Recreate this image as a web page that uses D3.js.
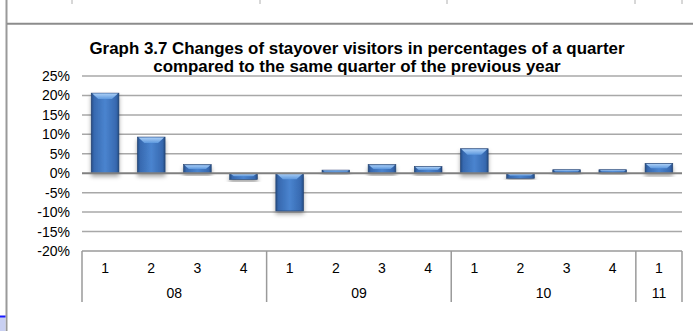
<!DOCTYPE html>
<html>
<head>
<meta charset="utf-8">
<script src="https://cdn.jsdelivr.net/npm/d3@7"></script>
<style>
  html, body { margin: 0; padding: 0; background: #fff; }
  svg { display: block; font-family: "Liberation Sans", Arial, sans-serif; }
</style>
</head>
<body>
<svg id="chart" width="693" height="331"></svg>
<script>
// Quarterly change of stayover visitors vs. same quarter of previous year (%)
const years = ["08", "09", "10", "11"];
const quartersPerYear = [4, 4, 4, 1];
const quarterLabels = ["1", "2", "3", "4", "1", "2", "3", "4", "1", "2", "3", "4", "1"];
const values = [20.6, 9.3, 2.2, -1.6, -9.7, 0.8, 2.2, 1.7, 6.3, -1.3, 0.9, 0.9, 2.5];
const yTicks = [25, 20, 15, 10, 5, 0, -5, -10, -15, -20];
const titleLines = [
  "Graph 3.7 Changes of stayover visitors in percentages of a quarter",
  "compared to the same quarter of the previous year"
];

const svg = d3.select("#chart");
const W = 693, H = 331;
const plot = { left: 82, right: 682, top: 76, bottom: 251 };

// page frame
svg.append("line").attr("x1", 6.5).attr("x2", 6.5).attr("y1", 0).attr("y2", H)
  .attr("stroke", "#9a9a9a").attr("stroke-width", 2);
svg.append("line").attr("x1", 7).attr("x2", W).attr("y1", 23.7).attr("y2", 23.7)
  .attr("stroke", "#8c8c8c").attr("stroke-width", 2);
[72, 260, 447, 635, 682].forEach(x => {
  svg.append("line").attr("x1", x).attr("x2", x).attr("y1", 0).attr("y2", 4)
    .attr("stroke", "#b0b0b0").attr("stroke-width", 1);
});
svg.append("rect").attr("x", 0).attr("y", 317).attr("width", 5.5).attr("height", 14)
  .attr("fill", "#c9d0f2");
svg.append("line").attr("x1", 0).attr("x2", 5.5).attr("y1", 316.5).attr("y2", 316.5)
  .attr("stroke", "#1a1aff").attr("stroke-width", 2);

// title
svg.append("text")
  .attr("x", 357).attr("y", 54)
  .attr("text-anchor", "middle")
  .attr("font-size", 16.9).attr("font-weight", "bold").attr("fill", "#000")
  .selectAll("tspan").data(titleLines).join("tspan")
  .attr("x", 357).attr("dy", (d, i) => i === 0 ? 0 : 18)
  .text(d => d);

// scales
const idx = d3.range(values.length);
const x = d3.scaleBand().domain(idx).range([plot.left, plot.right])
  .paddingInner(0.4).paddingOuter(0.2);
const y = d3.scaleLinear().domain([-20, 25]).range([plot.bottom, plot.top]);

// gridlines
svg.append("g").selectAll("line").data(yTicks.filter(t => t !== 0 && t !== -20)).join("line")
  .attr("x1", plot.left).attr("x2", plot.right)
  .attr("y1", d => y(d)).attr("y2", d => y(d))
  .attr("stroke", "#a8a8a8").attr("stroke-width", 1.5);

// y axis labels
const yAxis = d3.axisLeft(y).tickValues(yTicks).tickSize(0).tickPadding(12)
  .tickFormat(d => d + "%");
const gy = svg.append("g").attr("transform", `translate(${plot.left},0)`).call(yAxis);
gy.select(".domain").remove();
gy.selectAll("text").attr("font-size", 14).attr("fill", "#000")
  .attr("font-family", "Liberation Sans, Arial, sans-serif");

// bar styling
const defs = svg.append("defs");
const side = defs.append("linearGradient").attr("id", "barSide")
  .attr("x1", 0).attr("x2", 1).attr("y1", 0).attr("y2", 0);
[[0, "#254c82"], [0.1, "#3769b0"], [0.5, "#4a84cf"], [0.9, "#3769b0"], [1, "#254c82"]]
  .forEach(([o, c]) => side.append("stop").attr("offset", o).attr("stop-color", c));
const bevel = defs.append("linearGradient").attr("id", "barBevel")
  .attr("x1", 0).attr("x2", 0).attr("y1", 0).attr("y2", 1);
[[0, "#a9cdf5"], [1, "#5d98de"]]
  .forEach(([o, c]) => bevel.append("stop").attr("offset", o).attr("stop-color", c));
const shadow = defs.append("filter").attr("id", "shadow")
  .attr("x", "-30%").attr("y", "-30%").attr("width", "160%").attr("height", "160%");
shadow.append("feDropShadow").attr("dx", 0).attr("dy", 3).attr("stdDeviation", 2)
  .attr("flood-color", "#000").attr("flood-opacity", 0.35);

// bars
const bars = svg.append("g").selectAll("g").data(idx).join("g")
  .attr("filter", "url(#shadow)");
bars.append("rect")
  .attr("x", i => x(i))
  .attr("y", i => Math.min(y(values[i]), y(0)))
  .attr("width", x.bandwidth())
  .attr("height", i => Math.abs(y(values[i]) - y(0)))
  .attr("fill", "url(#barSide)")
  .attr("stroke", "#1f3f6e").attr("stroke-width", 0.6);
bars.append("path")
  .attr("d", i => {
    const x0 = x(i), w = x.bandwidth();
    const top = Math.min(y(values[i]), y(0));
    const h = Math.abs(y(values[i]) - y(0));
    const b = Math.min(6, h / 2);
    return `M${x0 + 1},${top + 0.5} L${x0 + w - 1},${top + 0.5} L${x0 + w - 1 - b},${top + b} L${x0 + 1 + b},${top + b} Z`;
  })
  .attr("fill", "url(#barBevel)");

// zero line
svg.append("line").attr("x1", plot.left).attr("x2", plot.right)
  .attr("y1", y(0)).attr("y2", y(0))
  .attr("stroke", "#808080").attr("stroke-width", 2);

// category axis box
const axisG = svg.append("g");
const boxBottom = 302;
axisG.append("line").attr("x1", plot.left).attr("x2", plot.right)
  .attr("y1", plot.bottom).attr("y2", plot.bottom)
  .attr("stroke", "#9a9a9a").attr("stroke-width", 1.5);

const step = x.step();
let start = 0;
const spans = years.map((yr, k) => {
  const s = { year: yr, from: start, to: start + quartersPerYear[k] };
  start += quartersPerYear[k];
  return s;
});
const edge = i => plot.left + i * step;
const boundaries = [0].concat(spans.map(s => s.to));
axisG.selectAll("line.sep").data(boundaries).join("line").attr("class", "sep")
  .attr("x1", d => edge(d)).attr("x2", d => edge(d))
  .attr("y1", plot.bottom).attr("y2", boxBottom)
  .attr("stroke", "#9a9a9a").attr("stroke-width", 1.5);

axisG.selectAll("text.q").data(idx).join("text").attr("class", "q")
  .attr("x", i => x(i) + x.bandwidth() / 2).attr("y", 273)
  .attr("text-anchor", "middle").attr("font-size", 14).attr("fill", "#000")
  .text(i => quarterLabels[i]);
axisG.selectAll("text.yr").data(spans).join("text").attr("class", "yr")
  .attr("x", s => (edge(s.from) + edge(s.to)) / 2).attr("y", 298)
  .attr("text-anchor", "middle").attr("font-size", 14).attr("fill", "#000")
  .text(s => s.year);
</script>
</body>
</html>
